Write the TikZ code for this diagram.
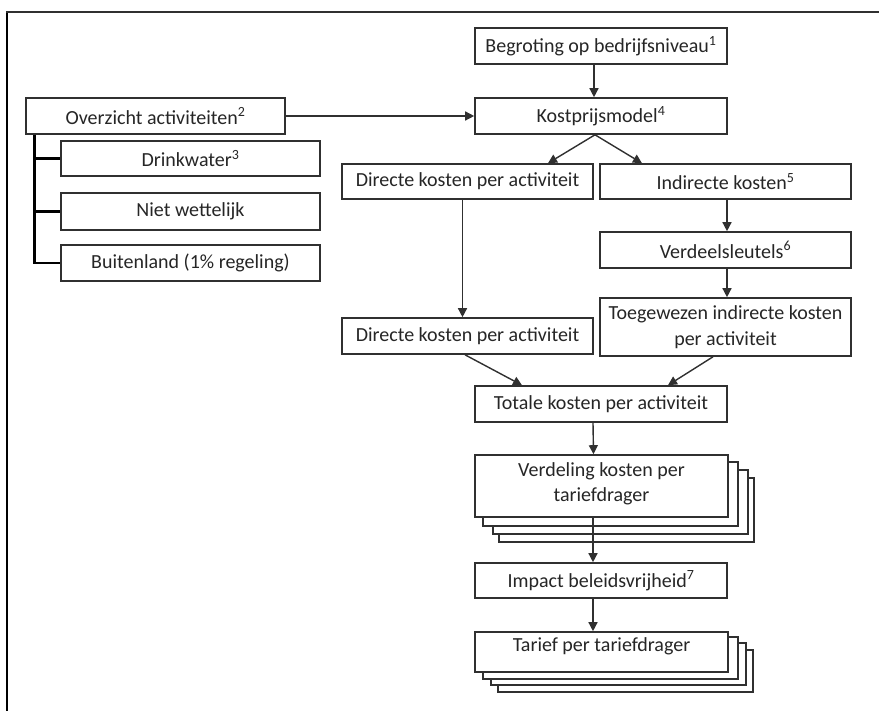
\documentclass[tikz,border=0pt]{standalone}
\usepackage{fontspec}
\setmainfont{Carlito}
\usetikzlibrary{arrows.meta,backgrounds}
\definecolor{txt}{HTML}{262626}
\definecolor{ln}{HTML}{303030}
\begin{document}
\begin{tikzpicture}[x=1pt,y=-1pt,
  box/.style={draw=ln,line width=1.6pt,fill=white,inner sep=0pt,align=center,
    text=txt,font=\fontsize{20}{25.5}\selectfont},
  arr/.style={draw=ln,line width=1.4pt,-{Triangle[length=9pt,width=9pt]}},
  bracket/.style={draw=black,line width=2.6pt},
  stackbox/.style={draw=ln,line width=1.6pt,fill=white}]
\useasboundingbox (0,0) rectangle (879,711);
\draw[black,line width=2.8pt] (7,711) -- (7,12);
\draw[ln,line width=1.6pt] (6,12) -- (879,12);
% nodes
\node[box,minimum width=252pt,minimum height=36pt] (bg) at (601,46) {Begroting op bedrijfsniveau\textsuperscript{1}};
\node[box,minimum width=252pt,minimum height=36pt] (kp) at (601,116) {Kostprijsmodel\textsuperscript{4}};
\node[box,minimum width=259pt,minimum height=36pt] (ov) at (155.5,116) {Overzicht activiteiten\textsuperscript{2}};
\node[box,minimum width=259pt,minimum height=35pt] (dw) at (190.5,158.5) {Drinkwater\textsuperscript{3}};
\node[box,minimum width=259pt,minimum height=37pt] (nw) at (190.5,211.5) {Niet wettelijk};
\node[box,minimum width=259pt,minimum height=36pt] (bu) at (190.5,263) {Buitenland (1\% regeling)};
\node[box,minimum width=251pt,minimum height=35pt] (dk1) at (467.5,181.5) {Directe kosten per activiteit};
\node[box,minimum width=251pt,minimum height=35pt] (ik) at (725.5,181.5) {Indirecte kosten\textsuperscript{5}};
\node[box,minimum width=251pt,minimum height=36pt] (vs) at (725.5,250) {Verdeelsleutels\textsuperscript{6}};
\node[box,minimum width=251pt,minimum height=58pt] (tw) at (725.5,327) {Toegewezen indirecte kosten\\per activiteit};
\node[box,minimum width=251pt,minimum height=36pt] (dk2) at (467.5,336) {Directe kosten per activiteit};
\node[box,minimum width=252pt,minimum height=36pt] (tk) at (601,404) {Totale kosten per activiteit};
\node[box,minimum width=253pt,minimum height=62pt,text depth=8pt] (vd) at (601.5,486) {Verdeling kosten per\\tariefdrager};
\node[box,minimum width=252pt,minimum height=35pt] (im) at (601,580.5) {Impact beleidsvrijheid\textsuperscript{7}};
\node[box,minimum width=253pt,minimum height=40pt,text depth=14pt] (tf) at (601.5,652) {Tarief per tariefdrager};
% stacked copies
\begin{scope}[on background layer]
  \foreach \dx/\dy in {25/24,19/16,9/8}{
    \draw[stackbox] ([shift={(\dx,\dy)}]vd.south west) rectangle ([shift={(\dx,\dy)}]vd.north east);
  }
  \foreach \dx/\dy in {24/19,17/12,9/6}{
    \draw[stackbox] ([shift={(\dx,\dy)}]tf.south west) rectangle ([shift={(\dx,\dy)}]tf.north east);
  }
\end{scope}
% bracket
\draw[bracket] ([xshift=9pt]ov.south west) |- (bu.west);
\draw[bracket] ([xshift=9pt]ov.south west |- dw.west) -- (dw.west);
\draw[bracket] ([xshift=9pt]ov.south west |- nw.west) -- (nw.west);
% arrows
\draw[arr] (ov.east) -- (kp.west);
\draw[arr] ([xshift=-7pt]bg.south) -- ([xshift=-7pt]kp.north);
\draw[arr] ([xshift=-6pt]kp.south) -- ([xshift=80.5pt]dk1.north);
\draw[arr] ([xshift=-6pt]kp.south) -- ([xshift=-83.5pt]ik.north);
\draw[arr] ([xshift=-5pt]dk1.south) -- ([xshift=-5pt]dk2.north);
\draw[arr] ([xshift=1.5pt]ik.south) -- ([xshift=1.5pt]vs.north);
\draw[arr] ([xshift=1.5pt]vs.south) -- ([xshift=1.5pt]tw.north);
\draw[arr] ([xshift=-2.5pt]dk2.south) -- ([xshift=-79pt]tk.north);
\draw[arr] ([xshift=-12.5pt]tw.south) -- ([xshift=67pt]tk.north);
\draw[arr] ([xshift=-8pt]tk.south) -- ([xshift=-8pt]vd.north);
\draw[arr] ([xshift=-8.5pt]vd.south) -- ([xshift=-8pt]im.north);
\draw[arr] ([xshift=-8pt]im.south) -- ([xshift=-8.5pt]tf.north);
\end{tikzpicture}
\end{document}
